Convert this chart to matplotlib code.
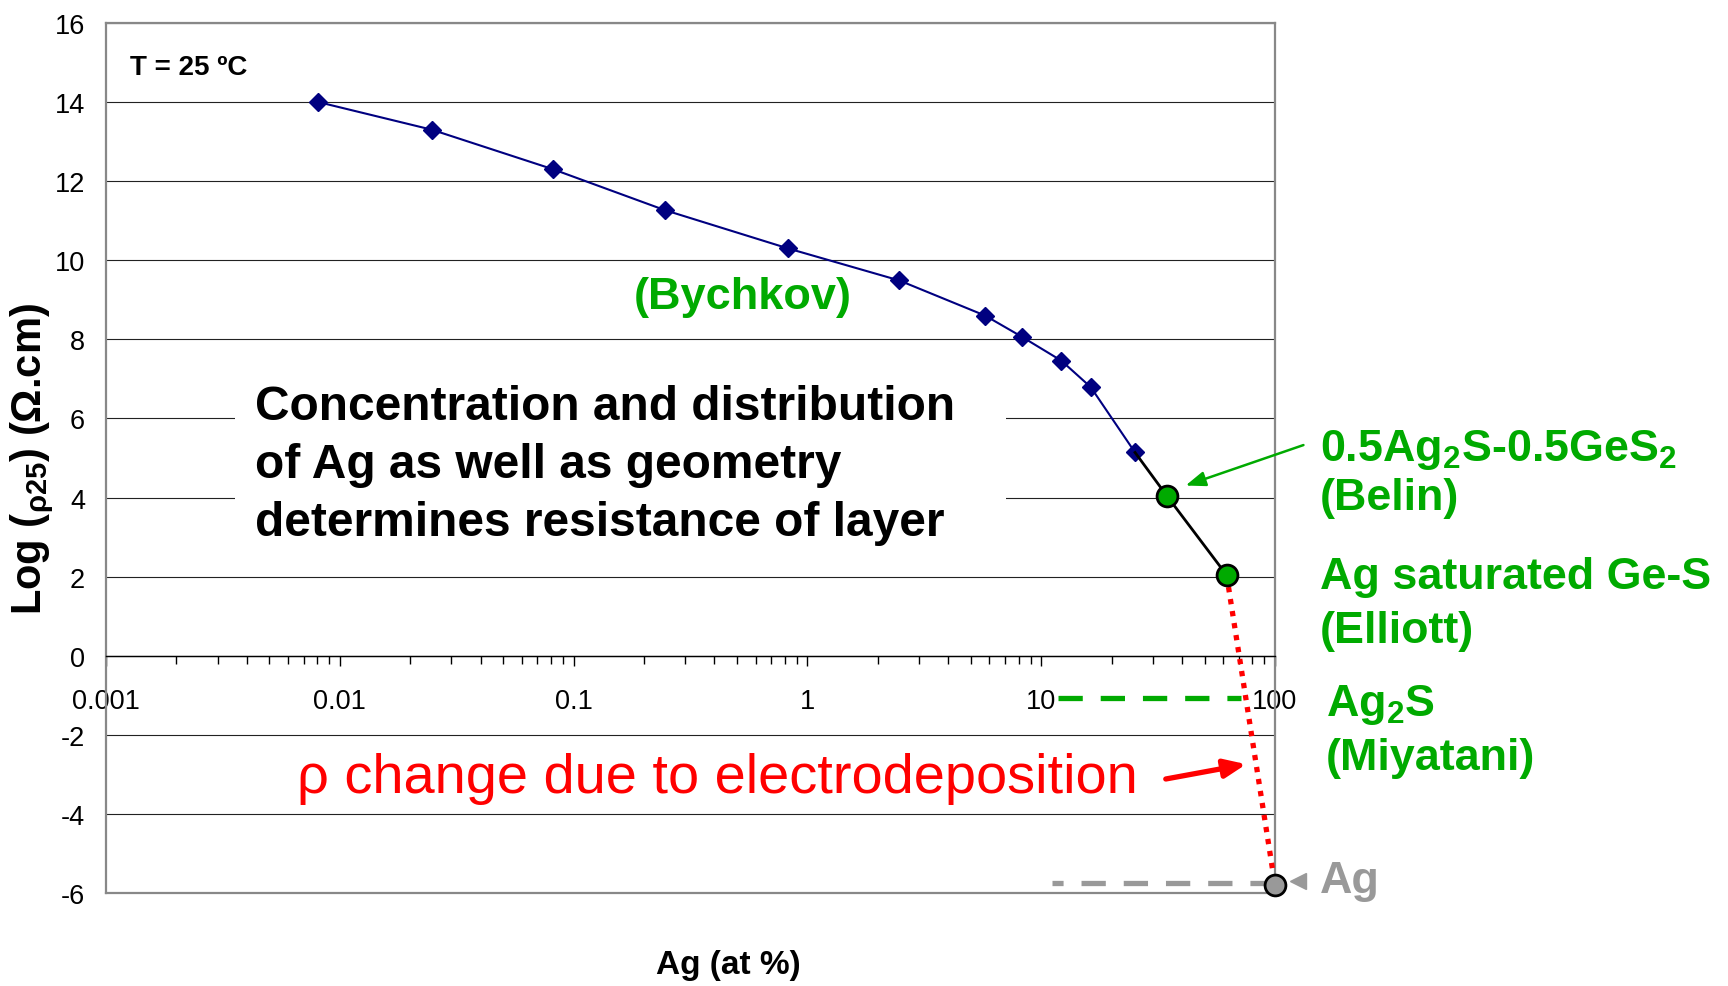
import matplotlib
matplotlib.use("Agg")
import matplotlib.pyplot as plt
from matplotlib import font_manager
from matplotlib.ticker import LogLocator, FixedLocator, FuncFormatter
from matplotlib.patches import Rectangle

plt.rcParams['font.family'] = ['Liberation Sans', 'DejaVu Sans']
plt.rcParams['axes.unicode_minus'] = False
plt.rcParams['mathtext.fontset'] = 'custom'
plt.rcParams['mathtext.rm'] = 'Liberation Sans:bold'
plt.rcParams['mathtext.it'] = 'Liberation Sans:italic:bold'
plt.rcParams['mathtext.bf'] = 'Liberation Sans:bold'
plt.rcParams['mathtext.default'] = 'rm'

# tick labels in the original use a condensed face
has_narrow = any(f.name == 'Liberation Sans Narrow' for f in font_manager.fontManager.ttflist)
tick_family = 'Liberation Sans Narrow' if has_narrow else 'Liberation Sans'
tick_size = 22 if has_narrow else 19.5

# Bychkov data (Ag at %, log rho)
bychkov_x = [0.0081, 0.0248, 0.0818, 0.245, 0.826, 2.47, 5.76, 8.24, 12.2, 16.3, 25.2]
bychkov_y = [14.0, 13.3, 12.3, 11.27, 10.3, 9.49, 8.6, 8.07, 7.46, 6.79, 5.14]

# black extension through Belin and Elliott points
ext_x = [25.2, 34.6, 62.1]
ext_y = [5.14, 4.03, 2.04]
green_pts_x = [34.6, 62.1]
green_pts_y = [4.03, 2.04]

# electrodeposition: Elliott -> Ag
red_x = [62.1, 100]
red_y = [2.04, -5.8]
ag_x = [100]
ag_y = [-5.8]

# reference levels
ag2s_x = [11.8, 71.6]
ag2s_y = [-1.06, -1.06]
agline_x = [11.1, 98]
agline_y = [-5.75, -5.75]

xticks = [0.001, 0.01, 0.1, 1, 10, 100]
xticklabels = ['0.001', '0.01', '0.1', '1', '10', '100']
yticks = list(range(-6, 17, 2))

green = '#00aa00'
navy = '#000080'
gray = '#999999'

fig = plt.figure(figsize=(17.28, 9.87), dpi=100)
ax = fig.add_axes([106/1728, 93/987, 1169/1728, 870/987])

ax.set_xscale('log')
ax.set_xlim(0.001, 100)
ax.set_ylim(-6, 16)

# grid and frame
ax.set_yticks(yticks)
ax.yaxis.grid(True, color='#222222', lw=0.8)
ax.set_axisbelow('line')
for s in ['left', 'top', 'right']:
    ax.spines[s].set_color('#888888')
    ax.spines[s].set_linewidth(1.6)
ax.spines['bottom'].set_position(('data', 0))
ax.spines['bottom'].set_color('black')
ax.spines['bottom'].set_linewidth(1.0)
ax.axhline(-6, color='#888888', lw=1.6, clip_on=False, zorder=2.5)

ax.xaxis.set_major_locator(FixedLocator(xticks))
ax.xaxis.set_major_formatter(FuncFormatter(lambda v, p: xticklabels[xticks.index(v)] if v in xticks else ''))
ax.xaxis.set_minor_locator(LogLocator(base=10, subs=range(2, 10)))
ax.xaxis.set_minor_formatter(FuncFormatter(lambda v, p: ''))
ax.tick_params(axis='x', which='major', direction='out', length=7, width=1, pad=16, labelsize=tick_size)
ax.tick_params(axis='x', which='minor', direction='out', length=5.5, width=1)
ax.tick_params(axis='y', length=0, pad=15, labelsize=tick_size)
for lab in ax.get_xticklabels() + ax.get_yticklabels():
    lab.set_family([tick_family, 'DejaVu Sans'])

# white box behind the comment text
ax.add_patch(Rectangle((0.110, 0.384), 0.660, 0.230, transform=ax.transAxes,
                       facecolor='white', edgecolor='none', zorder=1.8))

# series
ax.plot(bychkov_x, bychkov_y, color=navy, lw=1.5, marker='D', ms=9.5, zorder=4)
ax.plot(ext_x, ext_y, color='black', lw=2, zorder=4)
ax.plot(green_pts_x, green_pts_y, ls='none', marker='o', ms=15, mfc=green, mec='black', mew=2, zorder=5)
ax.plot(red_x, red_y, color='red', lw=3.8, ls=(0, (1.0, 1.3)), zorder=4, clip_on=False)
ax.plot(ag2s_x, ag2s_y, color=green, lw=3.8, ls=(0, (4.6, 3.4)), zorder=4)
ax.plot(agline_x, agline_y, color=gray, lw=3.8, ls=(2.5, (4.6, 3.4)), zorder=4)
ax.plot(ag_x, ag_y, ls='none', marker='o', ms=15, mfc=gray, mec='black', mew=2, zorder=5, clip_on=False)
ax.plot([1.0197], [0.0142], transform=ax.transAxes, marker='<', ms=11, color=gray,
        ls='none', clip_on=False)

# arrows
ax.annotate('', xy=(40.4, 4.28), xytext=(135.8, 5.35),
            arrowprops=dict(arrowstyle='-|>,head_length=1.2,head_width=0.45',
                            color=green, lw=1.8), annotation_clip=False)
ax.annotate('', xy=(77.4, -2.73), xytext=(33.2, -3.13),
            arrowprops=dict(arrowstyle='-|>,head_length=1.3,head_width=0.55',
                            color='red', lw=3.8), annotation_clip=False)

# texts
ax.text(0.0205, 0.949, 'T = 25 ºC', transform=ax.transAxes, fontsize=20,
        fontweight='bold', va='center', ha='left')
ax.text(0.5447, 0.6856, '(Bychkov)', transform=ax.transAxes, fontsize=32.5,
        fontweight='bold', color=green, va='center', ha='center')
ax.text(0.1271, 0.4925, 'Concentration and distribution\nof Ag as well as geometry\n'
        'determines resistance of layer', transform=ax.transAxes, fontsize=34.5,
        fontweight='bold', va='center', ha='left', linespacing=1.36, zorder=3)
ax.text(0.1638, 0.1322, 'ρ change due to electrodeposition', transform=ax.transAxes,
        fontsize=40.3, color='red', va='center', ha='left')

labels = [(1.0385, 0.5108, '0.5Ag$_2$S-0.5GeS$_2$'),
          (1.0385, 0.4550, '(Belin)'),
          (1.0385, 0.3639, 'Ag saturated Ge-S'),
          (1.0385, 0.3018, '(Elliott)'),
          (1.0433, 0.2169, 'Ag$_2$S'),
          (1.0433, 0.1561, '(Miyatani)')]
for lx, ly, txt in labels:
    ax.text(lx, ly, txt, transform=ax.transAxes, fontsize=32.3, fontweight='bold',
            color=green, va='center', ha='left')
ax.text(1.0385, 0.0142, 'Ag', transform=ax.transAxes, fontsize=32.3, fontweight='bold',
        color=gray, va='center', ha='left')

ax.set_xlabel('Ag (at %)', fontsize=24, fontweight='bold')
ax.xaxis.set_label_coords(0.532, -0.082)
ax.xaxis.label.set_va('center')
ax.set_ylabel(r'Log ($_{\rho 25}$) (Ω.cm)', fontsize=30, fontweight='bold')
ax.yaxis.set_label_coords(-0.063, 0.5)
ax.yaxis.label.set_va('center')

fig.savefig('out.png', dpi=100)
